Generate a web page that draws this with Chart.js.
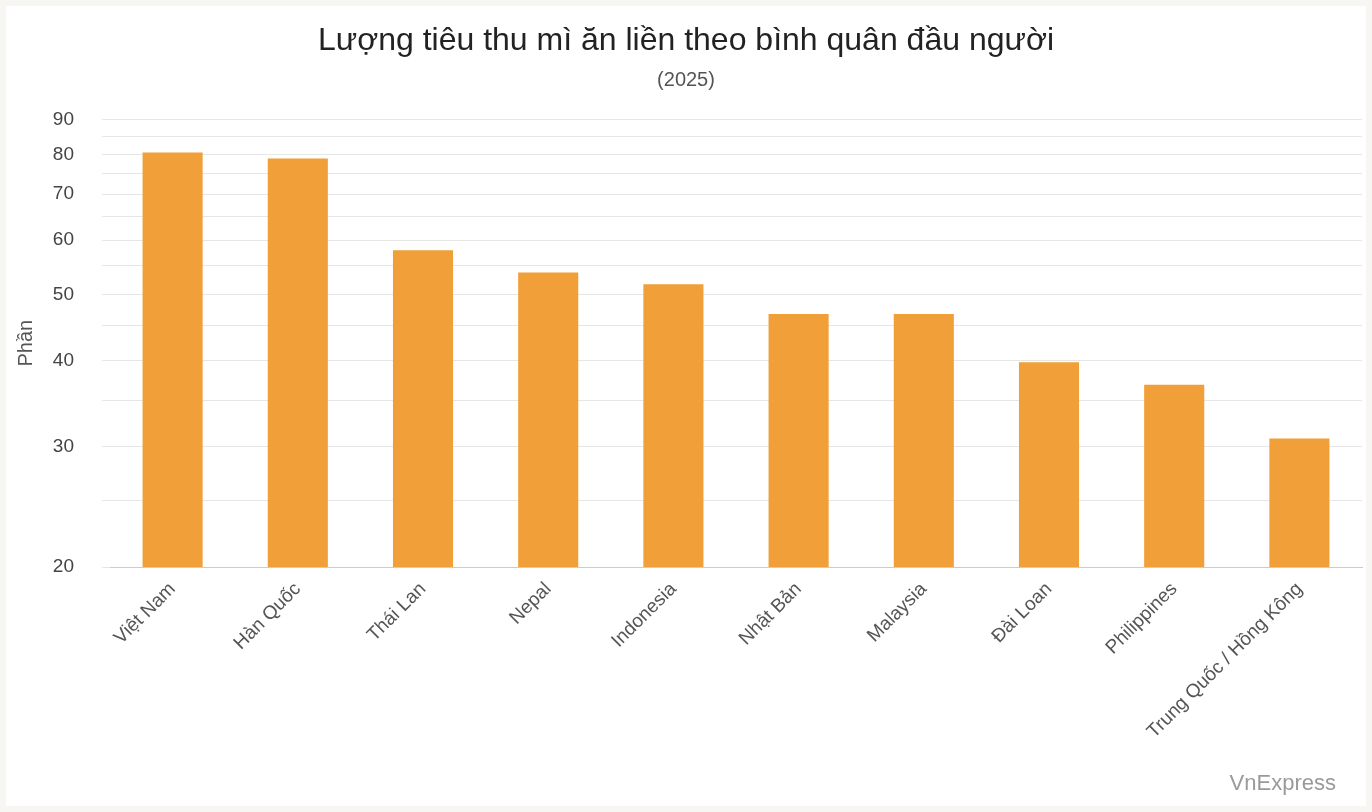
<!DOCTYPE html>
<html><head><meta charset="utf-8">
<script src="https://cdn.jsdelivr.net/npm/chart.js@4.4.1/dist/chart.umd.min.js"></script>
<style>
html,body{margin:0;padding:0;background:#f7f6f2;}
#wrap{position:absolute;left:6px;top:6px;width:1360px;height:800px;background:#fff;}
#mark{position:absolute;right:30px;bottom:10px;font:22px "Liberation Sans",Arial,sans-serif;color:#9a9a9a;}
</style></head><body>
<div id="wrap"><canvas id="c"></canvas><div id="mark">VnExpress</div></div>
<script>
const categories=["Việt Nam","Hàn Quốc","Thái Lan","Nepal","Indonesia","Nhật Bản","Malaysia","Đài Loan","Philippines","Trung Quốc / Hồng Kông"];
const values=[80.5,78.9,58,53.8,51.7,46.8,46.8,39.8,36.9,30.8];
const tickValues=[20,25,30,35,40,45,50,55,60,65,70,75,80,85,90];
const font="'Liberation Sans', Arial, sans-serif";
new Chart(document.getElementById('c'),{
 type:'bar',
 data:{labels:categories,datasets:[{data:values,backgroundColor:'#f19f38',barPercentage:0.48,categoryPercentage:1}]},
 options:{responsive:true,maintainAspectRatio:false,animation:false,
  layout:{padding:{left:4,right:4,top:10,bottom:60}},
  plugins:{legend:{display:false},tooltip:{enabled:false},
   title:{display:true,text:'Lượng tiêu thu mì ăn liền theo bình quân đầu người',font:{family:font,size:32,weight:'normal'},color:'#222',padding:{top:6,bottom:8}},
   subtitle:{display:true,text:'(2025)',font:{family:font,size:20},color:'#555',padding:{bottom:27}}},
  scales:{
   x:{grid:{display:false},border:{color:'#c5cbe0'},ticks:{color:'#555',font:{family:font,size:19},maxRotation:45,minRotation:45}},
   y:{type:'logarithmic',min:20,max:90,
     afterBuildTicks:s=>{s.ticks=tickValues.map(v=>({value:v}));},
     afterFit:s=>{s.width=100;},
     grid:{color:'#e6e6e6'},border:{display:false},
     title:{display:true,text:'Phần',font:{family:font,size:20},color:'#555'},
     ticks:{color:'#444',font:{family:font,size:19},autoSkip:false,padding:28,callback:v=>v%10===0?v:''}}
  }}
});
</script></body></html>
